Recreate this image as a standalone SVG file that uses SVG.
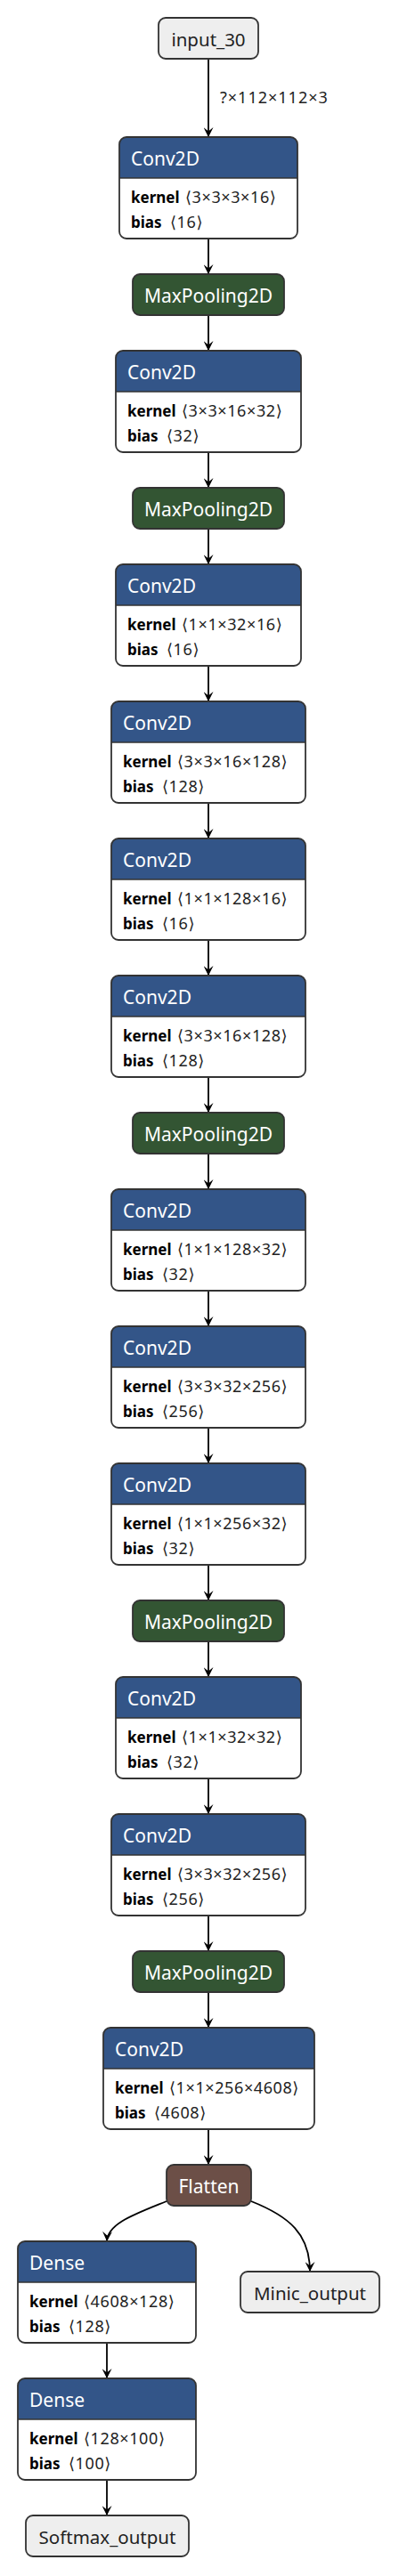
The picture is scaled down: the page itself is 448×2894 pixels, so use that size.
<svg xmlns="http://www.w3.org/2000/svg" width="448" height="2894" viewBox="0 0 448 2894">
<style>
text{font-family:"Noto Sans","Open Sans","DejaVu Sans",sans-serif;}
.body{fill:#fff;stroke:none;}
.border{fill:none;stroke:#333;stroke-width:1.8;}
.conv{fill:#335588;}
.pool{fill:#335533;stroke:#333;stroke-width:1.8;}
.shape{fill:#6c4f47;stroke:#333;stroke-width:1.8;}
.io{fill:#eeeeee;stroke:#333;stroke-width:1.8;}
.sep{stroke:#333;stroke-width:1.5;}
.title{fill:#fff;font-size:21px;}
.ctitle{fill:#fff;font-size:21px;text-anchor:middle;}
.iotext{fill:#222;font-size:20.5px;text-anchor:middle;}
.attr{fill:#000;font-size:17px;}
.b{font-weight:bold;}
.v{font-size:18px;letter-spacing:0.6px;fill:#222;}
.edge{fill:none;stroke:#000;stroke-width:1.8;marker-end:url(#arrow);}
.elabel{fill:#222;font-size:18px;letter-spacing:1px;}
</style>
<defs>
<marker id="arrow" viewBox="0 0 10 10" refX="10" refY="5" markerWidth="11" markerHeight="11" markerUnits="userSpaceOnUse" orient="auto"><path d="M0,0 L10,5 L0,10 L4,5 z" fill="#000"/></marker>
</defs>
<g id="edges">
<line class="edge" x1="234" y1="66" x2="234" y2="154"/>
<text class="elabel" x="247" y="116">?×112×112×3</text>
<line class="edge" x1="234" y1="268" x2="234" y2="308"/>
<line class="edge" x1="234" y1="354" x2="234" y2="394"/>
<line class="edge" x1="234" y1="508" x2="234" y2="548"/>
<line class="edge" x1="234" y1="594" x2="234" y2="634"/>
<line class="edge" x1="234" y1="748" x2="234" y2="788"/>
<line class="edge" x1="234" y1="902" x2="234" y2="942"/>
<line class="edge" x1="234" y1="1056" x2="234" y2="1096"/>
<line class="edge" x1="234" y1="1210" x2="234" y2="1250"/>
<line class="edge" x1="234" y1="1296" x2="234" y2="1336"/>
<line class="edge" x1="234" y1="1450" x2="234" y2="1490"/>
<line class="edge" x1="234" y1="1604" x2="234" y2="1644"/>
<line class="edge" x1="234" y1="1758" x2="234" y2="1798"/>
<line class="edge" x1="234" y1="1844" x2="234" y2="1884"/>
<line class="edge" x1="234" y1="1998" x2="234" y2="2038"/>
<line class="edge" x1="234" y1="2152" x2="234" y2="2192"/>
<line class="edge" x1="234" y1="2238" x2="234" y2="2278"/>
<line class="edge" x1="234" y1="2392" x2="234" y2="2432"/>
<path class="edge" d="M187,2473 C150,2488 121,2498 120,2518"/>
<path class="edge" d="M282,2473 C325,2490 348,2510 348,2552"/>
<line class="edge" x1="120" y1="2632" x2="120" y2="2672"/>
<line class="edge" x1="120" y1="2786" x2="120" y2="2826"/>
</g>
<g id="input_30"><rect class="io" x="178" y="20" width="112" height="46" rx="8"/><text class="iotext" x="234" y="52">input_30</text></g>
<g id="conv1"><rect class="body" x="134" y="154" width="200" height="114" rx="8"/><path class="conv" d="M134,200 V162 A8,8 0 0 1 142,154 H326 A8,8 0 0 1 334,162 V200 Z"/><line class="sep" x1="134" y1="200" x2="334" y2="200"/><rect class="border" x="134" y="154" width="200" height="114" rx="8"/><text class="title" x="147" y="186">Conv2D</text><text class="attr" x="147" y="228"><tspan class="b">kernel</tspan><tspan class="v" x="208">⟨3×3×3×16⟩</tspan></text><text class="attr" x="147" y="256"><tspan class="b">bias</tspan><tspan class="v" x="191">⟨16⟩</tspan></text></g>
<g id="pool1"><rect class="pool" x="149" y="308" width="170" height="46" rx="8"/><text class="ctitle" x="234" y="340">MaxPooling2D</text></g>
<g id="conv2"><rect class="body" x="130" y="394" width="208" height="114" rx="8"/><path class="conv" d="M130,440 V402 A8,8 0 0 1 138,394 H330 A8,8 0 0 1 338,402 V440 Z"/><line class="sep" x1="130" y1="440" x2="338" y2="440"/><rect class="border" x="130" y="394" width="208" height="114" rx="8"/><text class="title" x="143" y="426">Conv2D</text><text class="attr" x="143" y="468"><tspan class="b">kernel</tspan><tspan class="v" x="204">⟨3×3×16×32⟩</tspan></text><text class="attr" x="143" y="496"><tspan class="b">bias</tspan><tspan class="v" x="187">⟨32⟩</tspan></text></g>
<g id="pool2"><rect class="pool" x="149" y="548" width="170" height="46" rx="8"/><text class="ctitle" x="234" y="580">MaxPooling2D</text></g>
<g id="conv3"><rect class="body" x="130" y="634" width="208" height="114" rx="8"/><path class="conv" d="M130,680 V642 A8,8 0 0 1 138,634 H330 A8,8 0 0 1 338,642 V680 Z"/><line class="sep" x1="130" y1="680" x2="338" y2="680"/><rect class="border" x="130" y="634" width="208" height="114" rx="8"/><text class="title" x="143" y="666">Conv2D</text><text class="attr" x="143" y="708"><tspan class="b">kernel</tspan><tspan class="v" x="204">⟨1×1×32×16⟩</tspan></text><text class="attr" x="143" y="736"><tspan class="b">bias</tspan><tspan class="v" x="187">⟨16⟩</tspan></text></g>
<g id="conv4"><rect class="body" x="125" y="788" width="218" height="114" rx="8"/><path class="conv" d="M125,834 V796 A8,8 0 0 1 133,788 H335 A8,8 0 0 1 343,796 V834 Z"/><line class="sep" x1="125" y1="834" x2="343" y2="834"/><rect class="border" x="125" y="788" width="218" height="114" rx="8"/><text class="title" x="138" y="820">Conv2D</text><text class="attr" x="138" y="862"><tspan class="b">kernel</tspan><tspan class="v" x="199">⟨3×3×16×128⟩</tspan></text><text class="attr" x="138" y="890"><tspan class="b">bias</tspan><tspan class="v" x="182">⟨128⟩</tspan></text></g>
<g id="conv5"><rect class="body" x="125" y="942" width="218" height="114" rx="8"/><path class="conv" d="M125,988 V950 A8,8 0 0 1 133,942 H335 A8,8 0 0 1 343,950 V988 Z"/><line class="sep" x1="125" y1="988" x2="343" y2="988"/><rect class="border" x="125" y="942" width="218" height="114" rx="8"/><text class="title" x="138" y="974">Conv2D</text><text class="attr" x="138" y="1016"><tspan class="b">kernel</tspan><tspan class="v" x="199">⟨1×1×128×16⟩</tspan></text><text class="attr" x="138" y="1044"><tspan class="b">bias</tspan><tspan class="v" x="182">⟨16⟩</tspan></text></g>
<g id="conv6"><rect class="body" x="125" y="1096" width="218" height="114" rx="8"/><path class="conv" d="M125,1142 V1104 A8,8 0 0 1 133,1096 H335 A8,8 0 0 1 343,1104 V1142 Z"/><line class="sep" x1="125" y1="1142" x2="343" y2="1142"/><rect class="border" x="125" y="1096" width="218" height="114" rx="8"/><text class="title" x="138" y="1128">Conv2D</text><text class="attr" x="138" y="1170"><tspan class="b">kernel</tspan><tspan class="v" x="199">⟨3×3×16×128⟩</tspan></text><text class="attr" x="138" y="1198"><tspan class="b">bias</tspan><tspan class="v" x="182">⟨128⟩</tspan></text></g>
<g id="pool3"><rect class="pool" x="149" y="1250" width="170" height="46" rx="8"/><text class="ctitle" x="234" y="1282">MaxPooling2D</text></g>
<g id="conv7"><rect class="body" x="125" y="1336" width="218" height="114" rx="8"/><path class="conv" d="M125,1382 V1344 A8,8 0 0 1 133,1336 H335 A8,8 0 0 1 343,1344 V1382 Z"/><line class="sep" x1="125" y1="1382" x2="343" y2="1382"/><rect class="border" x="125" y="1336" width="218" height="114" rx="8"/><text class="title" x="138" y="1368">Conv2D</text><text class="attr" x="138" y="1410"><tspan class="b">kernel</tspan><tspan class="v" x="199">⟨1×1×128×32⟩</tspan></text><text class="attr" x="138" y="1438"><tspan class="b">bias</tspan><tspan class="v" x="182">⟨32⟩</tspan></text></g>
<g id="conv8"><rect class="body" x="125" y="1490" width="218" height="114" rx="8"/><path class="conv" d="M125,1536 V1498 A8,8 0 0 1 133,1490 H335 A8,8 0 0 1 343,1498 V1536 Z"/><line class="sep" x1="125" y1="1536" x2="343" y2="1536"/><rect class="border" x="125" y="1490" width="218" height="114" rx="8"/><text class="title" x="138" y="1522">Conv2D</text><text class="attr" x="138" y="1564"><tspan class="b">kernel</tspan><tspan class="v" x="199">⟨3×3×32×256⟩</tspan></text><text class="attr" x="138" y="1592"><tspan class="b">bias</tspan><tspan class="v" x="182">⟨256⟩</tspan></text></g>
<g id="conv9"><rect class="body" x="125" y="1644" width="218" height="114" rx="8"/><path class="conv" d="M125,1690 V1652 A8,8 0 0 1 133,1644 H335 A8,8 0 0 1 343,1652 V1690 Z"/><line class="sep" x1="125" y1="1690" x2="343" y2="1690"/><rect class="border" x="125" y="1644" width="218" height="114" rx="8"/><text class="title" x="138" y="1676">Conv2D</text><text class="attr" x="138" y="1718"><tspan class="b">kernel</tspan><tspan class="v" x="199">⟨1×1×256×32⟩</tspan></text><text class="attr" x="138" y="1746"><tspan class="b">bias</tspan><tspan class="v" x="182">⟨32⟩</tspan></text></g>
<g id="pool4"><rect class="pool" x="149" y="1798" width="170" height="46" rx="8"/><text class="ctitle" x="234" y="1830">MaxPooling2D</text></g>
<g id="conv10"><rect class="body" x="130" y="1884" width="208" height="114" rx="8"/><path class="conv" d="M130,1930 V1892 A8,8 0 0 1 138,1884 H330 A8,8 0 0 1 338,1892 V1930 Z"/><line class="sep" x1="130" y1="1930" x2="338" y2="1930"/><rect class="border" x="130" y="1884" width="208" height="114" rx="8"/><text class="title" x="143" y="1916">Conv2D</text><text class="attr" x="143" y="1958"><tspan class="b">kernel</tspan><tspan class="v" x="204">⟨1×1×32×32⟩</tspan></text><text class="attr" x="143" y="1986"><tspan class="b">bias</tspan><tspan class="v" x="187">⟨32⟩</tspan></text></g>
<g id="conv11"><rect class="body" x="125" y="2038" width="218" height="114" rx="8"/><path class="conv" d="M125,2084 V2046 A8,8 0 0 1 133,2038 H335 A8,8 0 0 1 343,2046 V2084 Z"/><line class="sep" x1="125" y1="2084" x2="343" y2="2084"/><rect class="border" x="125" y="2038" width="218" height="114" rx="8"/><text class="title" x="138" y="2070">Conv2D</text><text class="attr" x="138" y="2112"><tspan class="b">kernel</tspan><tspan class="v" x="199">⟨3×3×32×256⟩</tspan></text><text class="attr" x="138" y="2140"><tspan class="b">bias</tspan><tspan class="v" x="182">⟨256⟩</tspan></text></g>
<g id="pool5"><rect class="pool" x="149" y="2192" width="170" height="46" rx="8"/><text class="ctitle" x="234" y="2224">MaxPooling2D</text></g>
<g id="conv12"><rect class="body" x="116" y="2278" width="237" height="114" rx="8"/><path class="conv" d="M116,2324 V2286 A8,8 0 0 1 124,2278 H345 A8,8 0 0 1 353,2286 V2324 Z"/><line class="sep" x1="116" y1="2324" x2="353" y2="2324"/><rect class="border" x="116" y="2278" width="237" height="114" rx="8"/><text class="title" x="129" y="2310">Conv2D</text><text class="attr" x="129" y="2352"><tspan class="b">kernel</tspan><tspan class="v" x="190">⟨1×1×256×4608⟩</tspan></text><text class="attr" x="129" y="2380"><tspan class="b">bias</tspan><tspan class="v" x="173">⟨4608⟩</tspan></text></g>
<g id="flatten"><rect class="shape" x="187" y="2432" width="95" height="46" rx="8"/><text class="ctitle" x="234.5" y="2464">Flatten</text></g>
<g id="dense1"><rect class="body" x="20" y="2518" width="200" height="114" rx="8"/><path class="conv" d="M20,2564 V2526 A8,8 0 0 1 28,2518 H212 A8,8 0 0 1 220,2526 V2564 Z"/><line class="sep" x1="20" y1="2564" x2="220" y2="2564"/><rect class="border" x="20" y="2518" width="200" height="114" rx="8"/><text class="title" x="33" y="2550">Dense</text><text class="attr" x="33" y="2592"><tspan class="b">kernel</tspan><tspan class="v" x="94">⟨4608×128⟩</tspan></text><text class="attr" x="33" y="2620"><tspan class="b">bias</tspan><tspan class="v" x="77">⟨128⟩</tspan></text></g>
<g id="minic_output"><rect class="io" x="270" y="2552" width="156" height="46" rx="8"/><text class="iotext" x="348" y="2584">Minic_output</text></g>
<g id="dense2"><rect class="body" x="20" y="2672" width="200" height="114" rx="8"/><path class="conv" d="M20,2718 V2680 A8,8 0 0 1 28,2672 H212 A8,8 0 0 1 220,2680 V2718 Z"/><line class="sep" x1="20" y1="2718" x2="220" y2="2718"/><rect class="border" x="20" y="2672" width="200" height="114" rx="8"/><text class="title" x="33" y="2704">Dense</text><text class="attr" x="33" y="2746"><tspan class="b">kernel</tspan><tspan class="v" x="94">⟨128×100⟩</tspan></text><text class="attr" x="33" y="2774"><tspan class="b">bias</tspan><tspan class="v" x="77">⟨100⟩</tspan></text></g>
<g id="softmax_output"><rect class="io" x="29" y="2826" width="183" height="46" rx="8"/><text class="iotext" x="120.5" y="2858">Softmax_output</text></g>
</svg>
